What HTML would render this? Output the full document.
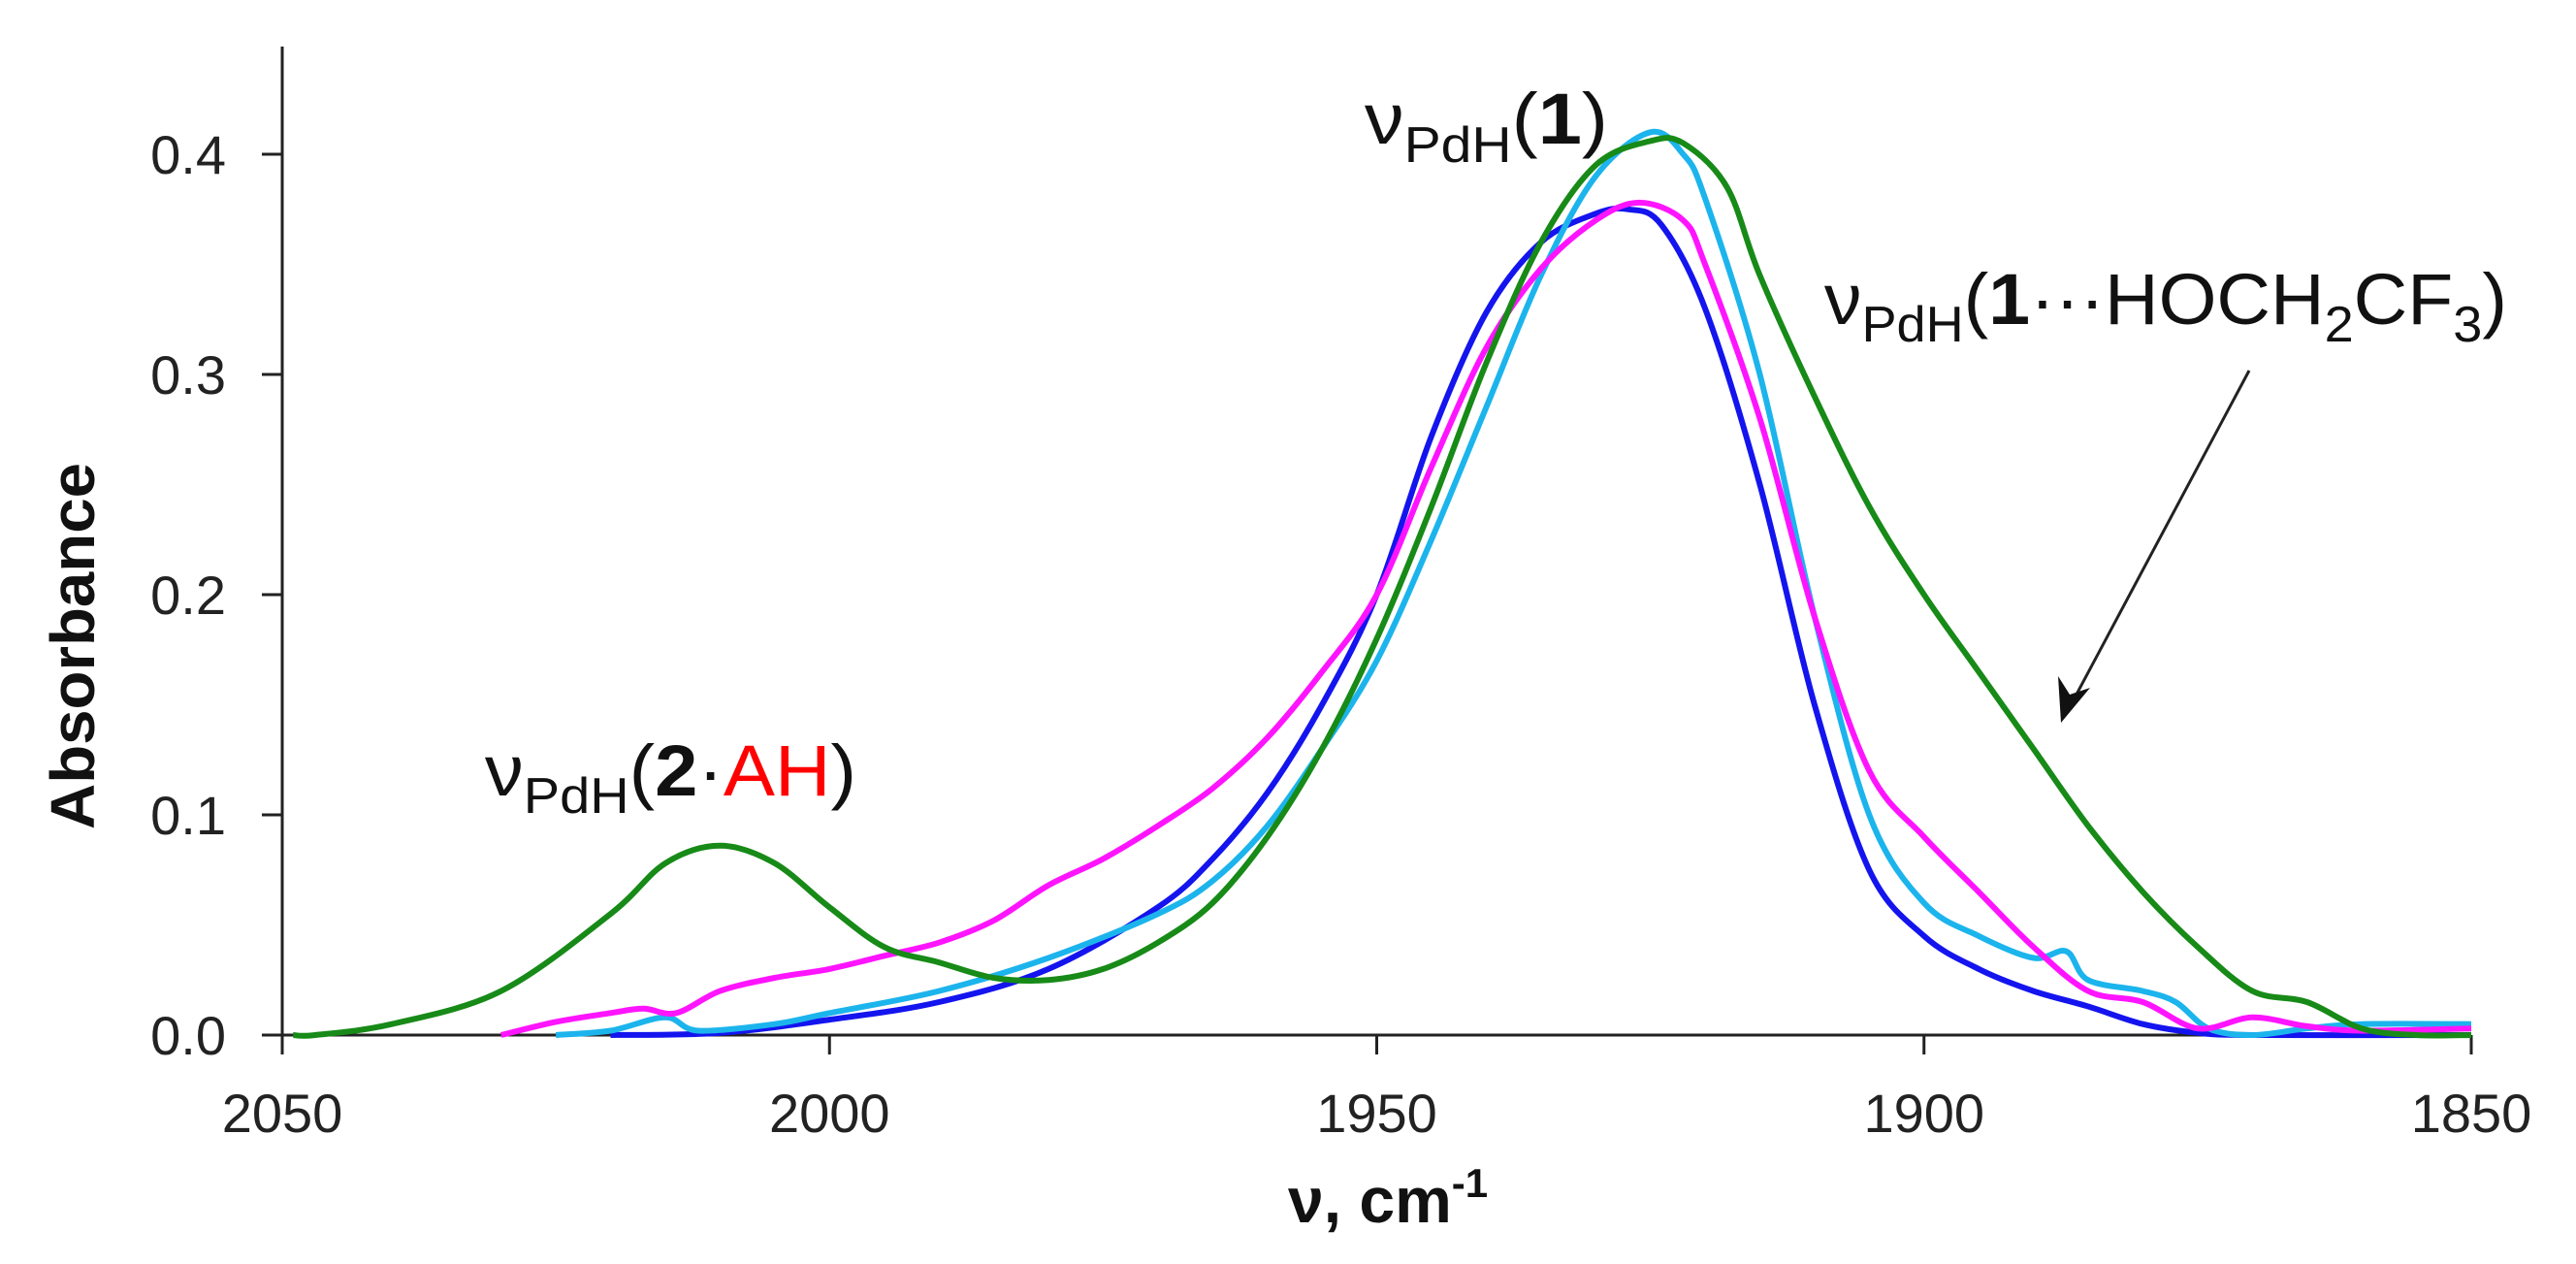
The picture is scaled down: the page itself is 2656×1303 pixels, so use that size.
<!DOCTYPE html>
<html><head><meta charset="utf-8"><style>
html,body{margin:0;padding:0;background:#fff;}
svg{display:block;font-family:"Liberation Sans",sans-serif;}
</style></head><body>
<svg id="chart" width="2656" height="1303" viewBox="0 0 2656 1303" xmlns="http://www.w3.org/2000/svg">
<rect width="2656" height="1303" fill="#fff"/>
<g id="axes"></g>
<g id="series"></g>
<text transform="translate(97,666) rotate(-90)" text-anchor="middle" font-weight="bold" font-size="64" textLength="378" lengthAdjust="spacingAndGlyphs" fill="#111">Absorbance</text>
<text x="1328" y="1260" font-weight="bold" font-size="66" fill="#111">ν, cm<tspan font-size="42" dy="-26">-1</tspan></text>
<text x="1407" y="148" font-size="74" fill="#111" textLength="251" lengthAdjust="spacingAndGlyphs">ν<tspan font-size="52" dy="19">PdH</tspan><tspan dy="-19">(</tspan><tspan font-weight="bold">1</tspan>)</text>
<text x="500" y="820" font-size="74" fill="#111" textLength="383" lengthAdjust="spacingAndGlyphs">ν<tspan font-size="52" dy="18">PdH</tspan><tspan dy="-18">(</tspan><tspan font-weight="bold">2</tspan>·<tspan fill="#ff0000">AH</tspan>)</text>
<text x="1881" y="334" font-size="74" fill="#111" textLength="704" lengthAdjust="spacingAndGlyphs">ν<tspan font-size="52" dy="18">PdH</tspan><tspan dy="-18">(</tspan><tspan font-weight="bold">1</tspan>···HOCH<tspan font-size="52" dy="18">2</tspan><tspan dy="-18">CF</tspan><tspan font-size="52" dy="18">3</tspan><tspan dy="-18">)</tspan></text>
<line x1="2319" y1="382" x2="2135" y2="727" stroke="#222" stroke-width="3"/>
<polygon points="2125,745 2122,697 2134,716 2155,709" fill="#111"/>
</svg>
<script>
const xTicks=[2050,2000,1950,1900,1850];
const yTicks=[0.0,0.1,0.2,0.3,0.4];
const yTickLabels=["0.0","0.1","0.2","0.3","0.4"];
const wnGreen=[2049,2047,2040,2030,2020,2015,2010,2005,2000,1995,1990,1985,1980,1975,1970,1965,1960,1955,1950,1945,1940,1935,1930,1925,1922,1918,1915,1910,1905,1900,1895,1890,1885,1880,1875,1870,1865,1860,1855,1850];
const absGreen=[0,0,0.005,0.02,0.055,0.078,0.086,0.078,0.058,0.04,0.033,0.026,0.025,0.03,0.042,0.06,0.09,0.13,0.18,0.24,0.305,0.36,0.395,0.406,0.405,0.385,0.345,0.29,0.24,0.2,0.165,0.13,0.095,0.065,0.04,0.02,0.015,0.003,0,0];
const wnBlue=[2020,2010,2000,1990,1980,1970,1965,1960,1955,1950,1945,1940,1935,1930,1927,1924,1920,1915,1910,1905,1900,1895,1890,1885,1880,1875,1870,1850];
const absBlue=[0,0.001,0.007,0.015,0.03,0.058,0.08,0.11,0.15,0.2,0.272,0.328,0.36,0.373,0.375,0.368,0.33,0.25,0.15,0.075,0.045,0.03,0.02,0.013,0.005,0.001,0,0];
const wnCyan=[2025,2020,2015,2012,2005,2000,1990,1980,1970,1965,1960,1955,1950,1945,1940,1935,1930,1925,1922,1920,1915,1910,1905,1900,1895,1890,1887,1885,1880,1877,1874,1870,1865,1860,1850];
const absCyan=[0,0.002,0.008,0.002,0.005,0.01,0.02,0.035,0.055,0.07,0.095,0.13,0.17,0.225,0.285,0.345,0.39,0.41,0.4,0.38,0.3,0.19,0.1,0.06,0.045,0.035,0.038,0.025,0.02,0.015,0.003,0,0.003,0.005,0.005];
const wnMagenta=[2030,2025,2020,2017,2014,2010,2005,2000,1995,1990,1985,1980,1975,1970,1965,1960,1955,1950,1945,1940,1935,1930,1926,1922,1920,1915,1910,1905,1900,1895,1890,1885,1880,1875,1870,1865,1860,1850];
const absMagenta=[0,0.006,0.01,0.012,0.01,0.02,0.026,0.03,0.036,0.042,0.052,0.068,0.08,0.095,0.112,0.135,0.165,0.2,0.258,0.312,0.348,0.37,0.378,0.37,0.35,0.28,0.19,0.12,0.09,0.065,0.04,0.02,0.015,0.003,0.008,0.004,0.002,0.003];

const NS="http://www.w3.org/2000/svg";
const xScale=v=>291+(2050-v)*11.285;
const yScale=a=>1067-a*2270;
const axes=document.getElementById('axes');
function mk(tag,attrs,parent){const e=document.createElementNS(NS,tag);for(const k in attrs)e.setAttribute(k,attrs[k]);parent.appendChild(e);return e;}

const yAxis=mk('line',{x1:291,y1:48,x2:291,y2:1087,stroke:'#222','stroke-width':3},axes);


const xAxis=mk('line',{x1:270,y1:yScale(0),x2:xScale(1850),y2:yScale(0),stroke:'#222','stroke-width':3},axes);


yTicks.forEach((t,i)=>{
  const y=yScale(t);
  const tk=mk('line',{x1:270,y1:y,x2:291,y2:y,stroke:'#222','stroke-width':3},axes);
  
  
  const tx=mk('text',{x:233,y:y+20,'text-anchor':'end','font-size':56,fill:'#222'},axes);
  tx.textContent=yTickLabels[i];
  
  
});
xTicks.forEach(t=>{
  const x=xScale(t);
  const tk=mk('line',{x1:x,y1:yScale(0),x2:x,y2:1087,stroke:'#222','stroke-width':3},axes);
  
  
  const tx=mk('text',{x:x,y:1167,'text-anchor':'middle','font-size':56,fill:'#222'},axes);
  tx.textContent=String(t);
  
  
});

function smoothPath(xs,ys){
  const p=xs.map((v,i)=>[xScale(v),yScale(ys[i])]);
  let d='M'+p[0][0].toFixed(1)+','+p[0][1].toFixed(1);
  for(let i=0;i<p.length-1;i++){
    const p0=p[i-1]||p[i],p1=p[i],p2=p[i+1],p3=p[i+2]||p2;
    const c1=[p1[0]+(p2[0]-p0[0])/6,p1[1]+(p2[1]-p0[1])/6];
    const c2=[p2[0]-(p3[0]-p1[0])/6,p2[1]-(p3[1]-p1[1])/6];
    d+=' C'+c1[0].toFixed(1)+','+c1[1].toFixed(1)+' '+c2[0].toFixed(1)+','+c2[1].toFixed(1)+' '+p2[0].toFixed(1)+','+p2[1].toFixed(1);
  }
  return d;
}
const sg=document.getElementById('series');
const sBlue=mk('path',{d:smoothPath(wnBlue,absBlue),fill:'none',stroke:'#1414ee','stroke-width':6,'stroke-linejoin':'round'},sg);


const sCyan=mk('path',{d:smoothPath(wnCyan,absCyan),fill:'none',stroke:'#1cb4ec','stroke-width':6,'stroke-linejoin':'round'},sg);


const sMag=mk('path',{d:smoothPath(wnMagenta,absMagenta),fill:'none',stroke:'#ff14ff','stroke-width':6,'stroke-linejoin':'round'},sg);


const sGreen=mk('path',{d:smoothPath(wnGreen,absGreen),fill:'none',stroke:'#178a17','stroke-width':6,'stroke-linejoin':'round'},sg);


</script>
</body></html>
